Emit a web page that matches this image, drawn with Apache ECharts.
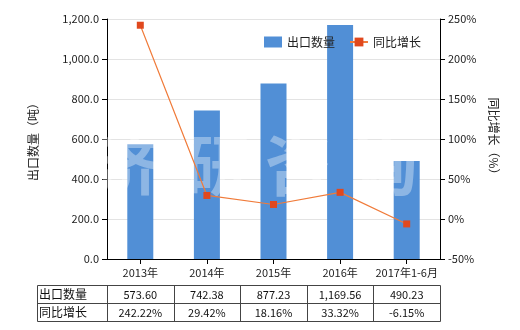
<!DOCTYPE html>
<html><head><meta charset="utf-8">
<script src="https://cdn.jsdelivr.net/npm/echarts@6/dist/echarts.min.js"></script>
<style>html,body{margin:0;padding:0;background:#fff}#c{width:520px;height:330px}</style>
</head><body><div id="c"></div>
<script>
var categories = ['2013年','2014年','2015年','2016年','2017年1-6月'];
var exportQty = [573.60, 742.38, 877.23, 1169.56, 490.23];
var yoyGrowth = [242.22, 29.42, 18.16, 33.32, -6.15];
var seriesNames = ['出口数量','同比增长'];
var leftAxisName = '出口数量（吨）';
var rightAxisName = '同比增长（%）';
var watermark = '济研咨询';

var FONT = '"Noto Sans CJK SC", "Microsoft YaHei", sans-serif';
function fmtNum(v){ return v.toLocaleString('en-US',{minimumFractionDigits:2,maximumFractionDigits:2}); }
function fmtAxis(v){ return v.toLocaleString('en-US',{minimumFractionDigits:1,maximumFractionDigits:1}); }

var chart = echarts.init(document.getElementById('c'), null, {renderer:'canvas'});
var option = {
  animation:false,
  textStyle:{fontFamily:FONT},
  grid:{left:107, right:80, top:19, bottom:71},
  legend:{
    left:259, top:31, itemGap:14, itemWidth:18, itemHeight:11,
    textStyle:{fontSize:12, color:'#222', fontFamily:FONT},
    data:[{name:seriesNames[0], icon:'rect'},{name:seriesNames[1]}]
  },
  xAxis:{
    type:'category', data:categories,
    axisLine:{lineStyle:{color:'#000'}},
    axisTick:{show:true, alignWithLabel:true, lineStyle:{color:'#000'}},
    axisLabel:{color:'#222', fontSize:11, margin:8, interval:0, fontFamily:FONT}
  },
  yAxis:[{
    type:'value', min:0, max:1200, interval:200,
    name:leftAxisName, nameLocation:'middle', nameGap:68, nameRotate:90,
    nameTextStyle:{fontSize:12, color:'#222', fontFamily:FONT},
    axisLine:{show:true, lineStyle:{color:'#000'}},
    axisTick:{show:true, lineStyle:{color:'#000'}},
    axisLabel:{color:'#222', fontSize:11, formatter:fmtAxis, fontFamily:FONT},
    splitLine:{lineStyle:{color:'#e3e3e3'}}
  },{
    type:'value', min:-50, max:250, interval:50,
    name:rightAxisName, nameLocation:'middle', nameGap:45, nameRotate:-90,
    nameTextStyle:{fontSize:12, color:'#222', fontFamily:FONT},
    axisLine:{show:true, lineStyle:{color:'#000'}},
    axisTick:{show:true, lineStyle:{color:'#000'}},
    axisLabel:{color:'#222', fontSize:11, formatter:'{value}%', fontFamily:FONT},
    splitLine:{show:false}
  }],
  series:[{
    name:seriesNames[0], type:'bar', data:exportQty, barWidth:26, z:2,
    itemStyle:{color:'#518FD6'}, yAxisIndex:0
  },{
    name:seriesNames[1], type:'line', data:yoyGrowth, yAxisIndex:1, z:10,
    symbol:'rect', symbolSize:7,
    lineStyle:{color:'#F07B3A', width:1.2},
    itemStyle:{color:'#E0481E'}
  }]
};
chart.setOption(option);

// table + watermark from data
var xs = categories.map(function(c){ return chart.convertToPixel({xAxisIndex:0}, c); });
var colW = xs.length>1 ? (xs[1]-xs[0]) : 66;
var tableLeft = 37, firstColRight = xs[0]-colW/2;
var tableRight = xs[xs.length-1]+colW/2;
var rowTop = 285, rowH = 18;
var g = [];
var stroke = '#444';
g.push({type:'rect', shape:{x:tableLeft+0.5, y:rowTop+0.5, width:tableRight-tableLeft, height:rowH*2}, style:{fill:null, stroke:stroke, lineWidth:1}, z:100});
g.push({type:'line', shape:{x1:tableLeft, y1:rowTop+rowH+0.5, x2:tableRight, y2:rowTop+rowH+0.5}, style:{stroke:stroke, lineWidth:1}, z:100});
g.push({type:'line', shape:{x1:Math.round(firstColRight)+0.5, y1:rowTop, x2:Math.round(firstColRight)+0.5, y2:rowTop+rowH*2}, style:{stroke:stroke, lineWidth:1}, z:100});
for (var i=0;i<xs.length-1;i++){
  var bx = Math.round(xs[i]+colW/2)+0.5;
  g.push({type:'line', shape:{x1:bx, y1:rowTop, x2:bx, y2:rowTop+rowH*2}, style:{stroke:stroke, lineWidth:1}, z:100});
}
var rows = [
  {label:seriesNames[0], vals:exportQty.map(fmtNum)},
  {label:seriesNames[1], vals:yoyGrowth.map(function(v){return v.toFixed(2)+'%';})}
];
rows.forEach(function(r, ri){
  var cy = rowTop + rowH*ri + rowH/2 + 1;
  g.push({type:'text', x:tableLeft+2, y:cy-1, style:{text:r.label, fill:'#111', font:'12px '+FONT, textAlign:'left', textVerticalAlign:'middle'}, z:100});
  r.vals.forEach(function(v, ci){
    g.push({type:'text', x:xs[ci], y:cy, style:{text:v, fill:'#111', font:'11px '+FONT, textAlign:'center', textVerticalAlign:'middle'}, z:100});
  });
});
// watermark (above bars, below line)
var wmX = [127, 217, 298, 385];
watermark.split('').forEach(function(ch, i){
  g.push({type:'text', x:wmX[i], y:165, style:{text:ch, fill:'rgba(255,255,255,0.35)', font:'bold 66px '+FONT, textAlign:'center', textVerticalAlign:'middle'}, z:5});
});
chart.setOption({graphic:g});
</script></body></html>
